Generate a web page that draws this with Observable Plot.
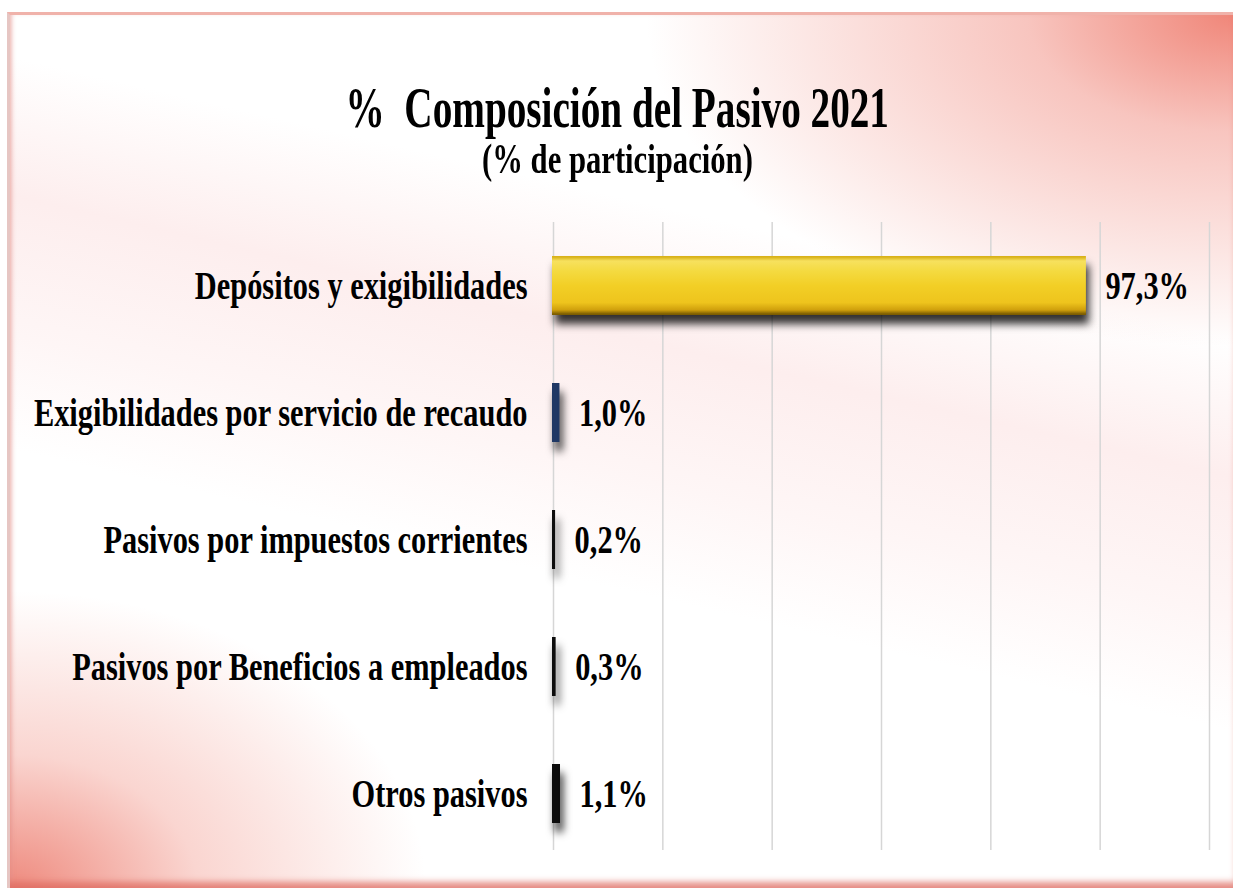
<!DOCTYPE html>
<html>
<head>
<meta charset="utf-8">
<script src="https://cdn.jsdelivr.net/npm/d3@7"></script>
<script src="https://cdn.jsdelivr.net/npm/@observablehq/plot@0.6"></script>
<style>
  html, body { margin: 0; padding: 0; background: #fff; }
  #frame { position: relative; width: 1233px; height: 892px; overflow: hidden; background: #fff; }
  #panel {
    position: absolute; left: 7px; top: 12px; width: 1226px; height: 876px; box-sizing: border-box;
    border-top: 3px solid #f0b2aa; border-left: 3px solid #e6c6c3;
    background:
      radial-gradient(ellipse 48% 38% at 100% 0%, rgba(238,118,103,0.88) 0%, rgba(243,158,148,0.6) 35%, rgba(255,255,255,0) 100%),
      radial-gradient(ellipse 34% 34% at 0% 100%, rgba(236,122,108,0.88) 0%, rgba(245,172,162,0.5) 45%, rgba(255,255,255,0) 100%),
      linear-gradient(193deg, rgba(255,255,255,0) 28%, rgba(250,212,212,0.4) 40%, rgba(252,225,225,0.3) 52%, rgba(255,255,255,0) 62%),
      #fff;
    box-shadow: inset 0 -9px 6px -3px rgba(222,105,95,0.75), inset 4px 0 4px -2px rgba(230,150,145,0.5);
  }
  .ttl { position: absolute; left: 0; width: 1233px; text-align: center; font-family: "Liberation Serif", "Times New Roman", serif; font-weight: bold; color: #000; white-space: nowrap; }
  #title { top: 76px; font-size: 56px; line-height: 64px; transform: scaleX(0.70); transform-origin: 619px 0; }
  #subtitle { top: 135px; font-size: 42px; line-height: 48px; transform: scaleX(0.73); transform-origin: 620px 0; }
  #chart { position: absolute; left: 0; top: 200px; }
</style>
</head>
<body>
<div id="frame">
  <div id="panel"></div>
  <div class="ttl" id="title">%&nbsp; Composición del Pasivo 2021</div>
  <div class="ttl" id="subtitle">(% de participación)</div>
  <div id="chart"></div>
</div>
<script>
const categories = [
  "Depósitos y exigibilidades",
  "Exigibilidades por servicio de recaudo",
  "Pasivos por impuestos corrientes",
  "Pasivos por Beneficios a empleados",
  "Otros pasivos"
];
const values = [97.3, 1.0, 0.2, 0.3, 1.1];
const gridTicks = [0, 20, 40, 60, 80, 100, 120];
const barFills = ["url(#gold)", "#1f3864", "#0d0d0d", "#0d0d0d", "#0d0d0d"];

const data = categories.map((c, i) => ({category: c, value: values[i]}));
const fmt = v => v.toFixed(1).replace(".", ",") + "%";

const chart = Plot.plot({
  width: 1233,
  height: 692,
  marginTop: 22,
  marginBottom: 35,
  marginLeft: 553,
  marginRight: 24,
  style: {background: "transparent", fontFamily: "'Liberation Serif', 'Times New Roman', serif", fontWeight: "bold", fontSize: "40px", color: "#000"},
  x: {domain: [0, 120], axis: null},
  y: {domain: categories, paddingInner: 0.55, paddingOuter: 0.275, label: null, tickSize: 0, tickPadding: 26},
  color: {type: "ordinal", domain: categories, range: barFills},
  marks: [
    Plot.ruleX(gridTicks, {x: d => d, stroke: "#d6d6d6", strokeWidth: 1.5, insetBottom: 7}),
    Plot.barX(data, {x: "value", y: "category", fill: "category", stroke: "category", strokeWidth: 2}),
    Plot.text(data, {x: "value", y: "category", text: d => fmt(d.value), textAnchor: "start", dx: 20, fill: "#000"})
  ]
});

// gradient definition for the gold bar
const ns = "http://www.w3.org/2000/svg";
const defs = document.createElementNS(ns, "defs");
const lg = document.createElementNS(ns, "linearGradient");
lg.setAttribute("id", "gold");
lg.setAttribute("x1", "0"); lg.setAttribute("y1", "0"); lg.setAttribute("x2", "0"); lg.setAttribute("y2", "1");
[[0, "#d9b21a"], [0.07, "#f7e15e"], [0.25, "#f4da40"], [0.5, "#f2cf26"], [0.8, "#eec41d"], [0.93, "#cf9f0c"], [1, "#7d5d00"]]
  .forEach(([o, c]) => {
    const s = document.createElementNS(ns, "stop");
    s.setAttribute("offset", o); s.setAttribute("stop-color", c);
    lg.appendChild(s);
  });
defs.appendChild(lg);
chart.insertBefore(defs, chart.firstChild);

// shadows on bars
chart.querySelectorAll('g[aria-label="bar"] rect').forEach(r => {
  r.style.filter = "drop-shadow(3px 9px 4px rgba(0,0,0,0.8))";
});

// condensed text
const sx = 0.76;
chart.querySelectorAll("text").forEach(t => {
  const tr = t.getAttribute("transform");
  if (tr) {
    t.setAttribute("transform", tr + ` scale(${sx},1)`);
  } else {
    const x = +(t.getAttribute("x") || 0);
    t.setAttribute("transform", `translate(${x},0) scale(${sx},1) translate(${-x},0)`);
  }
});

document.getElementById("chart").appendChild(chart);
</script>
</body>
</html>
